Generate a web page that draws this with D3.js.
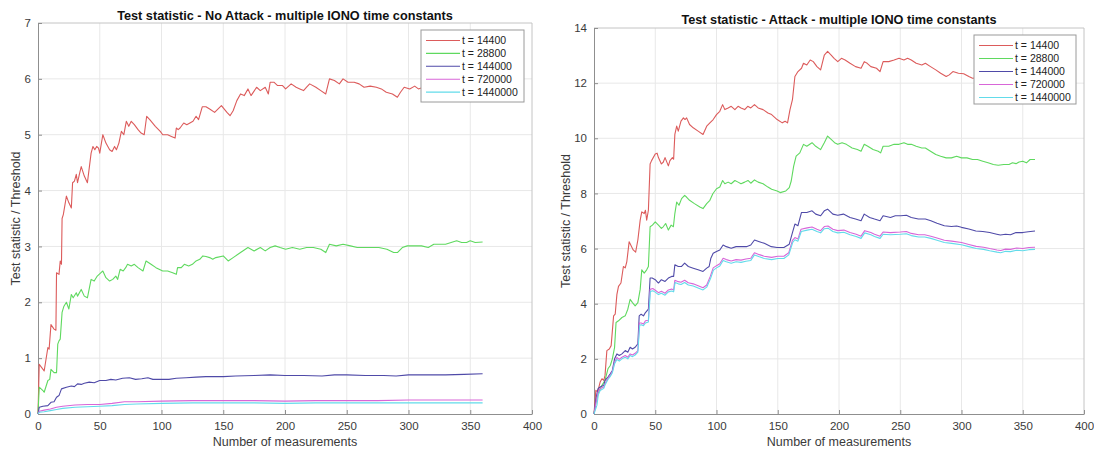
<!DOCTYPE html>
<html>
<head>
<meta charset="utf-8">
<script src="https://cdn.jsdelivr.net/npm/d3@7"></script>
<style>
  body { margin: 0; background: #fff; }
  svg { font-family: "Liberation Sans", Arial, sans-serif; }
</style>
</head>
<body>
<div id="chart"></div>
<script>
// legend labels, one per series
const seriesNames = ["t = 14400", "t = 28800", "t = 144000", "t = 720000", "t = 1440000"];
const seriesColors = ["#dc5b5b", "#5fd95f", "#4f4aa8", "#d866d8", "#62dbea"];

const xTicks = [0, 50, 100, 150, 200, 250, 300, 350, 400];
const yTicksNoAttack = [0, 1, 2, 3, 4, 5, 6, 7];
const yTicksAttack = [0, 2, 4, 6, 8, 10, 12, 14];

// ---- No Attack panel, [measurement, test statistic / threshold]
const noAttack14400 = [[0,0],[1,0.89],[3,0.83],[5,0.77],[8,1.19],[9,1.16],[10.5,1.6],[13,1.52],[14.5,1.5],[15,2.53],[17,2.5],[18,2.74],[19,2.68],[19.5,3.5],[20.5,3.57],[23,3.9],[25,3.78],[27,3.69],[28,4.14],[29.5,4.17],[31,4.29],[32,4.14],[33.5,4.29],[35,4.43],[37.5,4.26],[40,4.14],[43,4.67],[44.5,4.79],[46,4.73],[47.5,4.79],[49,4.76],[50,4.67],[52.5,5.0],[55,4.85],[58,4.73],[60,4.7],[62,4.79],[63.5,4.73],[65.5,4.85],[67.5,5.06],[69.5,5.0],[71.5,5.24],[73.5,5.15],[75.5,5.24],[78,5.18],[81,5.09],[83.5,5.03],[86,5.0],[88,5.33],[90.5,5.27],[95,5.15],[99,5.06],[101,5.0],[105,5.0],[108,4.97],[111,4.94],[112,5.12],[113.5,5.09],[115,5.12],[118,5.21],[120.5,5.18],[123,5.21],[125.5,5.24],[128,5.33],[130,5.27],[133,5.5],[136,5.5],[139,5.46],[143,5.4],[148.5,5.52],[153,5.4],[155.5,5.34],[158,5.43],[161,5.61],[164,5.73],[167,5.7],[170,5.82],[172.5,5.7],[177,5.85],[180,5.79],[184,5.85],[186.5,5.73],[188,5.94],[191,5.94],[194,5.88],[198,5.88],[200.5,5.82],[205,5.91],[209,5.85],[212,5.82],[215,5.79],[217.5,5.85],[220,5.91],[225,5.85],[229,5.79],[233,5.73],[236,6.0],[240,5.97],[244,5.91],[247,6.0],[251,5.94],[256,5.94],[260,5.91],[264,5.85],[269,5.87],[274,5.85],[278,5.82],[282,5.76],[287,5.73],[291,5.67],[293.5,5.76],[296.5,5.85],[301,5.82],[305,5.87],[308,5.82],[312,5.85],[318,5.88],[325,5.86],[332,5.9],[340,5.88],[348,5.92],[355,5.9],[360,5.92]];
const noAttack28800 = [[0,0],[1,0.48],[4,0.42],[5,0.39],[8,0.6],[9.5,0.62],[10.5,0.8],[13,0.74],[15,0.74],[16,1.25],[17,1.31],[18,1.34],[19.5,1.82],[21,1.93],[23,2.0],[25,1.88],[27,2.14],[28.5,2.08],[31,2.17],[32,2.11],[35,2.23],[37.5,2.11],[40,2.08],[43,2.41],[45.5,2.38],[48,2.47],[51,2.53],[52.5,2.56],[55,2.44],[58,2.38],[60.5,2.41],[63,2.47],[64.5,2.41],[66.5,2.59],[69,2.56],[71,2.62],[72.5,2.68],[75.5,2.65],[78,2.68],[81,2.62],[85,2.56],[87.5,2.74],[91.5,2.68],[95.5,2.62],[101,2.56],[105,2.56],[109,2.53],[112,2.5],[113,2.62],[116,2.62],[118.5,2.68],[122,2.65],[125,2.68],[128,2.74],[131,2.77],[133.5,2.83],[136,2.82],[139,2.8],[141.5,2.77],[144,2.8],[150,2.83],[154,2.74],[158,2.8],[164,2.89],[170,2.98],[175,2.92],[180,2.98],[184,2.92],[188,2.98],[192,3.01],[196,2.98],[200.5,2.95],[206,2.98],[212,2.95],[217.5,2.98],[223,2.98],[229,2.95],[233,2.89],[236,3.04],[241.5,3.01],[247,3.04],[253,3.01],[258.5,2.98],[264,2.98],[270,2.98],[276,2.98],[282.5,2.95],[288,2.89],[291,2.89],[295,2.98],[299,3.01],[305,3.01],[310.5,3.01],[316,2.98],[320.5,3.04],[326,3.04],[330,3.04],[334.5,3.07],[339,3.1],[343,3.07],[347,3.07],[350,3.1],[354,3.07],[360,3.08]];
const noAttack144000 = [[0,0],[1,0.12],[4,0.14],[8,0.15],[10.5,0.21],[13,0.22],[15,0.3],[17,0.33],[19,0.45],[23,0.48],[27,0.5],[29.5,0.49],[32,0.54],[35,0.53],[37.5,0.55],[41.5,0.57],[45.5,0.56],[50,0.6],[55,0.6],[59,0.62],[63,0.61],[68.5,0.64],[74,0.65],[79,0.62],[84,0.63],[89,0.65],[93,0.62],[100,0.62],[106,0.62],[112,0.64],[120,0.65],[128,0.66],[136,0.67],[144,0.67],[150,0.67],[160,0.68],[175,0.69],[188,0.7],[200,0.69],[215,0.69],[230,0.68],[240,0.7],[250,0.7],[265,0.69],[280,0.69],[290,0.68],[300,0.7],[315,0.7],[330,0.7],[345,0.71],[360,0.72]];
const noAttack720000 = [[0,0],[1,0.05],[5,0.07],[10,0.09],[15,0.12],[20,0.14],[30,0.16],[40,0.17],[50,0.17],[60,0.19],[70,0.22],[80,0.22],[100,0.23],[125,0.24],[150,0.24],[175,0.24],[200,0.23],[225,0.24],[250,0.24],[275,0.24],[300,0.25],[330,0.25],[360,0.25]];
const noAttack1440000 = [[0,0],[1,0.03],[5,0.04],[10,0.06],[15,0.08],[20,0.1],[30,0.12],[40,0.13],[50,0.14],[60,0.15],[70,0.17],[80,0.18],[100,0.19],[125,0.2],[150,0.2],[175,0.2],[200,0.19],[225,0.2],[250,0.2],[275,0.2],[300,0.2],[330,0.2],[360,0.2]];

// ---- Attack panel
const attack14400 = [[0,0],[1.5,0.86],[3,0.8],[5,1.16],[6.5,1.28],[8,1.22],[9,1.4],[10.5,2.3],[12.5,2.36],[14,2.48],[16,3.56],[17.3,3.62],[18.7,4.34],[20,4.63],[22,4.75],[24,5.35],[25.5,5.3],[26.8,5.53],[28.7,6.25],[30,6.13],[32,5.95],[34,5.87],[35.8,6.31],[37.7,7.03],[39,7.33],[41,7.27],[42,7.39],[43,7.03],[44.4,7.39],[45.8,9.07],[47,9.19],[50,9.43],[51.5,9.46],[52.6,9.3],[55,9.07],[56.5,9.13],[58,9.3],[60.7,9.0],[62,9.19],[64,9.3],[65,9.24],[66,10.14],[67.5,10.44],[68.8,10.26],[71,10.62],[73,10.74],[74.3,10.68],[75.6,10.74],[78,10.5],[81,10.38],[85,10.26],[89,10.14],[92,10.44],[94.6,10.56],[97.3,10.68],[100,10.86],[102.7,10.98],[105,11.22],[106.8,11.04],[109.5,11.1],[112,11.16],[115,11.04],[117.6,11.16],[120,11.1],[123,11.04],[125.5,11.16],[128,11.1],[131,11.22],[134,11.1],[138,11.04],[142,10.92],[145,10.86],[149.5,10.68],[153.7,10.56],[156,10.62],[158,10.56],[160,11.04],[162,11.4],[164,12.24],[166.5,12.42],[169.4,12.54],[171,12.72],[173.7,12.66],[176.5,12.84],[179,12.78],[182,12.6],[185,12.48],[188,13.02],[190.7,13.15],[193.6,13.02],[196,12.9],[199,12.78],[202,12.9],[205,12.84],[209,12.72],[213.5,12.6],[218,12.54],[220.6,12.78],[223,12.72],[226,12.6],[230.6,12.54],[233.5,12.42],[236,12.78],[240.6,12.78],[245,12.84],[249,12.9],[253,12.84],[256,12.9],[259,12.84],[263,12.72],[267.6,12.66],[270.5,12.72],[274.7,12.6],[279,12.48],[283,12.36],[287.5,12.24],[290,12.3],[293,12.42],[297.5,12.36],[301.8,12.34],[306,12.24],[309,12.18],[315,12.2],[322,12.1],[330,12.05],[338,12.1],[346,12.15],[353,12.1],[360,12.15]];
const attack28800 = [[0,0],[1.6,0.44],[3.8,0.8],[6.5,1.04],[9,1.22],[11.4,1.64],[13.3,1.76],[15,2.0],[16.8,2.42],[18,3.32],[20,3.38],[22.8,3.5],[25.5,3.56],[27.6,3.8],[29.5,4.16],[31.4,4.04],[33.6,3.92],[35.8,4.04],[37.7,4.52],[39,5.23],[41,5.11],[43,5.23],[44.4,5.35],[45.8,6.79],[47.7,6.85],[50,6.97],[52.6,6.85],[55,6.73],[56.5,6.79],[58.5,6.91],[60.7,6.67],[63,6.85],[64.8,6.79],[66,7.27],[67.5,7.69],[69.4,7.57],[71.5,7.81],[74,7.93],[75.5,7.87],[78,7.75],[82,7.63],[86.4,7.51],[89,7.45],[92,7.63],[94.6,7.75],[97,7.99],[100,8.17],[102.7,8.23],[105,8.47],[106.8,8.35],[109.5,8.41],[112,8.35],[115,8.47],[117.6,8.41],[120,8.35],[123,8.41],[125.7,8.47],[128,8.37],[131,8.49],[134,8.41],[138,8.35],[142,8.23],[145,8.15],[149.5,8.09],[152,8.03],[156.6,8.09],[159.4,8.21],[161,8.45],[163,8.99],[165,9.35],[168,9.47],[171,9.78],[173.7,9.71],[178,9.84],[181,9.71],[185,9.59],[188,9.84],[190.7,10.08],[193.6,9.96],[196.4,9.84],[199,9.78],[202.5,9.84],[206,9.78],[210.7,9.65],[215,9.59],[218,9.53],[220.6,9.78],[223.5,9.71],[227.8,9.59],[232,9.53],[234,9.47],[236,9.71],[240.6,9.71],[245,9.78],[249,9.78],[253,9.84],[256,9.78],[259,9.78],[263,9.71],[267.6,9.65],[270.5,9.65],[274.7,9.53],[279,9.41],[283,9.35],[287.5,9.29],[291.8,9.29],[296,9.35],[300,9.29],[304.5,9.29],[309,9.23],[313,9.23],[317.4,9.17],[321.7,9.11],[326,9.05],[330,9.02],[334.5,9.05],[338.8,9.05],[341.6,9.11],[344.5,9.08],[347,9.14],[350,9.17],[353,9.11],[356,9.23],[360,9.23]];
const attack144000 = [[0,0],[1.6,0.56],[3.3,0.92],[5,0.98],[8,1.04],[9,1.22],[11.4,1.34],[13.3,1.46],[15,1.58],[16.8,2.0],[18.7,2.18],[20.6,2.12],[22.8,2.18],[25.5,2.3],[27.6,2.24],[29.5,2.42],[31.4,2.36],[33.6,2.42],[35.8,2.54],[36.9,3.56],[38.5,3.62],[40.4,3.56],[42,3.68],[44.4,3.8],[45.8,4.93],[47.5,4.93],[50,4.87],[52.6,4.75],[55,4.87],[58,4.81],[60.7,4.93],[63.4,4.99],[65,4.99],[66,5.41],[68.8,5.35],[71.5,5.35],[74,5.47],[77,5.35],[81,5.29],[85,5.23],[89,5.17],[92,5.29],[94,5.35],[95.4,5.65],[97.3,5.83],[100,5.89],[102.7,5.95],[105.4,6.13],[108,6.07],[112,6.01],[116,6.07],[120,6.07],[124.4,6.07],[128,6.13],[131,6.31],[135,6.25],[139,6.19],[144.7,6.07],[149.5,6.04],[155,6.04],[159.4,6.16],[162,6.58],[164,6.89],[166.5,6.83],[169.4,7.31],[173.7,7.31],[178,7.37],[181,7.25],[185,7.19],[188,7.37],[190.7,7.43],[195,7.25],[199,7.21],[203.6,7.25],[209,7.13],[213.5,7.07],[218,7.01],[220.6,7.25],[225,7.13],[229,7.07],[233.5,7.01],[236,7.19],[242,7.13],[246,7.19],[250.5,7.19],[255,7.21],[259,7.13],[264.8,7.07],[270.5,7.07],[275,7.01],[280,6.92],[286,6.83],[291.8,6.8],[296,6.82],[300,6.77],[306,6.71],[311.7,6.64],[317.4,6.62],[323,6.58],[328.8,6.52],[331.7,6.49],[336,6.52],[340,6.5],[344.5,6.58],[350,6.58],[354.5,6.61],[360,6.64]];
const attack720000 = [[0,0],[1.6,0.4],[3.3,0.8],[5,0.92],[8,0.98],[9,1.1],[11.4,1.3],[13.3,1.4],[15,1.55],[16.8,1.88],[18.7,2.05],[20.6,1.98],[22.8,2.06],[25.5,2.12],[27.6,2.06],[29.5,2.18],[31.4,2.14],[33.6,2.2],[35.8,2.3],[37,3.3],[38.5,3.3],[40.4,3.26],[42,3.38],[44.4,3.4],[45.8,4.52],[48,4.55],[50,4.49],[52.6,4.4],[55,4.45],[58,4.38],[60.7,4.5],[63.4,4.53],[65,4.5],[66,4.85],[68.8,4.8],[71,4.78],[74,4.85],[77,4.76],[81,4.72],[85,4.65],[89,4.58],[92,4.68],[95,5.0],[97.3,5.3],[100,5.38],[102.7,5.45],[105.4,5.65],[108,5.6],[112,5.55],[116,5.6],[120,5.58],[124,5.62],[128,5.65],[131,5.85],[135,5.78],[139,5.72],[145,5.68],[150,5.72],[155,5.72],[159,5.85],[162,6.3],[164,6.4],[166.5,6.35],[169,6.7],[174,6.75],[178,6.78],[182,6.7],[185,6.65],[188,6.8],[191,6.82],[195,6.7],[199,6.65],[204,6.67],[209,6.58],[214,6.52],[218,6.45],[221,6.65],[226,6.58],[229,6.52],[233.5,6.45],[236,6.6],[242,6.58],[250,6.6],[255,6.62],[259,6.55],[265,6.5],[270,6.5],[275,6.45],[280,6.38],[286,6.3],[292,6.27],[300,6.22],[306,6.15],[312,6.08],[318,6.05],[323,6.0],[329,5.95],[332,5.93],[336,5.98],[340,5.97],[345,6.02],[350,6.0],[355,6.04],[360,6.05]];
const attack1440000 = [[0,0],[2.4,0.32],[3.5,0.7],[5,0.85],[8,0.93],[9,1.05],[11.4,1.25],[13.3,1.36],[15,1.5],[16.8,1.82],[18.7,1.98],[20.6,1.92],[22.8,2.0],[25.5,2.06],[27.6,2.0],[29.5,2.12],[31.4,2.08],[33.6,2.14],[35.8,2.24],[37.3,3.22],[38.5,3.24],[40.4,3.2],[42,3.3],[44.4,3.34],[46,4.44],[48,4.47],[50,4.42],[52.6,4.33],[55,4.38],[58,4.31],[60.7,4.43],[63.4,4.46],[65,4.43],[66.2,4.77],[68.8,4.72],[71,4.7],[74,4.77],[77,4.68],[81,4.64],[85,4.57],[89,4.5],[92,4.6],[95.2,4.92],[97.5,5.22],[100,5.3],[102.7,5.37],[105.4,5.57],[108,5.52],[112,5.47],[116,5.52],[120,5.5],[124,5.54],[128,5.57],[131,5.77],[135,5.7],[139,5.64],[145,5.6],[150,5.64],[155,5.64],[159,5.77],[162.2,6.22],[164,6.32],[166.5,6.27],[169.2,6.62],[174,6.67],[178,6.7],[182,6.62],[185,6.57],[188,6.72],[191,6.74],[195,6.62],[199,6.57],[204,6.59],[209,6.5],[214,6.44],[218,6.37],[221,6.57],[226,6.5],[229,6.44],[233.5,6.37],[236,6.52],[242,6.5],[250,6.52],[255,6.54],[259,6.47],[265,6.42],[270,6.42],[275,6.37],[280,6.3],[286,6.22],[292,6.19],[300,6.14],[306,6.07],[312,6.0],[318,5.97],[323,5.92],[329,5.87],[332,5.85],[336,5.9],[340,5.89],[345,5.94],[350,5.92],[355,5.96],[360,5.97]];

// layout of the two panels
const panels = [
  {
    title: "Test statistic - No Attack - multiple IONO time constants",
    series: [noAttack14400, noAttack28800, noAttack144000, noAttack720000, noAttack1440000],
    yMax: 7, yTicks: yTicksNoAttack,
    left: 38, right: 532, top: 23, bottom: 414,
    titleY: 19.5, yLabelX: 16,
    legend: { x: 421, y: 30, w: 103, h: 72, row: 12.9 }
  },
  {
    title: "Test statistic - Attack - multiple IONO time constants",
    series: [attack14400, attack28800, attack144000, attack720000, attack1440000],
    yMax: 14, yTicks: yTicksAttack,
    left: 594, right: 1084, top: 28, bottom: 414,
    titleY: 23.5, yLabelX: 566,
    legend: { x: 974, y: 35, w: 102, h: 69, row: 13 }
  }
];

const svg = d3.select("#chart").append("svg")
  .attr("width", 1094)
  .attr("height", 450);

function draw_panel(p)
{
  const g = svg.append("g");

  const x = d3.scaleLinear().domain([0, 400]).range([p.left, p.right]);
  const y = d3.scaleLinear().domain([0, p.yMax]).range([p.bottom, p.top]);

  // grid
  g.append("g").selectAll("line")
    .data(xTicks.slice(1, -1))
    .enter().append("line")
    .attr("x1", d => x(d)).attr("x2", d => x(d))
    .attr("y1", p.top).attr("y2", p.bottom)
    .attr("stroke", "#e8e8e8");
  g.append("g").selectAll("line")
    .data(p.yTicks.slice(1, -1))
    .enter().append("line")
    .attr("x1", p.left).attr("x2", p.right)
    .attr("y1", d => y(d)).attr("y2", d => y(d))
    .attr("stroke", "#e8e8e8");

  // box top / right
  g.append("path")
    .attr("d", `M${p.left},${p.top}H${p.right}V${p.bottom}`)
    .attr("fill", "none")
    .attr("stroke", "#c4c4c4");

  // axes, ticks pointing inward like matlab
  const xAxis = d3.axisBottom(x).tickValues(xTicks).tickFormat(d3.format("d"))
    .tickSizeInner(-4).tickSizeOuter(0).tickPadding(8);
  const yAxis = d3.axisLeft(y).tickValues(p.yTicks).tickFormat(d3.format("d"))
    .tickSizeInner(-4).tickSizeOuter(0).tickPadding(7);

  const gx = g.append("g")
    .attr("transform", "translate(0," + p.bottom + ")")
    .call(xAxis);
  const gy = g.append("g")
    .attr("transform", "translate(" + p.left + ",0)")
    .call(yAxis);

  [gx, gy].forEach(a => {
    a.select(".domain").attr("stroke", "#8f8f8f");
    a.selectAll(".tick line").attr("stroke", "#8f8f8f");
    a.selectAll(".tick text")
      .attr("fill", "#3a3a3a")
      .style("font-size", "11.5px")
      .style("font-family", "'Liberation Sans', Arial, sans-serif");
  });

  // lines
  const line = d3.line()
    .x(d => x(d[0]))
    .y(d => y(d[1]));

  g.append("g").selectAll("path")
    .data(p.series)
    .enter().append("path")
    .attr("d", d => line(d))
    .attr("fill", "none")
    .attr("stroke", (d, i) => seriesColors[i])
    .attr("stroke-width", 1.1)
    .attr("stroke-linejoin", "round");

  // title and labels
  g.append("text")
    .attr("x", (p.left + p.right) / 2)
    .attr("y", p.titleY)
    .attr("text-anchor", "middle")
    .attr("font-weight", "bold")
    .attr("font-size", "12.7px")
    .attr("fill", "#111")
    .text(p.title);

  g.append("text")
    .attr("x", (p.left + p.right) / 2)
    .attr("y", 446)
    .attr("text-anchor", "middle")
    .attr("font-size", "12.5px")
    .attr("fill", "#3a3a3a")
    .text("Number of measurements");

  g.append("text")
    .attr("transform", `translate(${p.yLabelX},${(p.top + p.bottom) / 2}) rotate(-90)`)
    .attr("dy", "0.35em")
    .attr("text-anchor", "middle")
    .attr("font-size", "12.5px")
    .attr("fill", "#3a3a3a")
    .text("Test statistic / Threshold");

  // legend
  const lg = g.append("g").attr("transform", `translate(${p.legend.x},${p.legend.y})`);
  lg.append("rect")
    .attr("width", p.legend.w).attr("height", p.legend.h)
    .attr("fill", "#fff")
    .attr("stroke", "#9a9a9a");

  const item = lg.selectAll("g.item")
    .data(seriesNames)
    .enter().append("g")
    .attr("class", "item")
    .attr("transform", (d, i) => `translate(0,${10.5 + i * p.legend.row})`);
  item.append("line")
    .attr("x1", 5).attr("x2", 39)
    .attr("stroke", (d, i) => seriesColors[i])
    .attr("stroke-width", 1.1);
  item.append("text")
    .attr("x", 41)
    .attr("dy", "0.35em")
    .attr("font-size", "10.5px")
    .attr("fill", "#222")
    .text(d => d);
}

panels.forEach(draw_panel);
</script>
</body>
</html>
